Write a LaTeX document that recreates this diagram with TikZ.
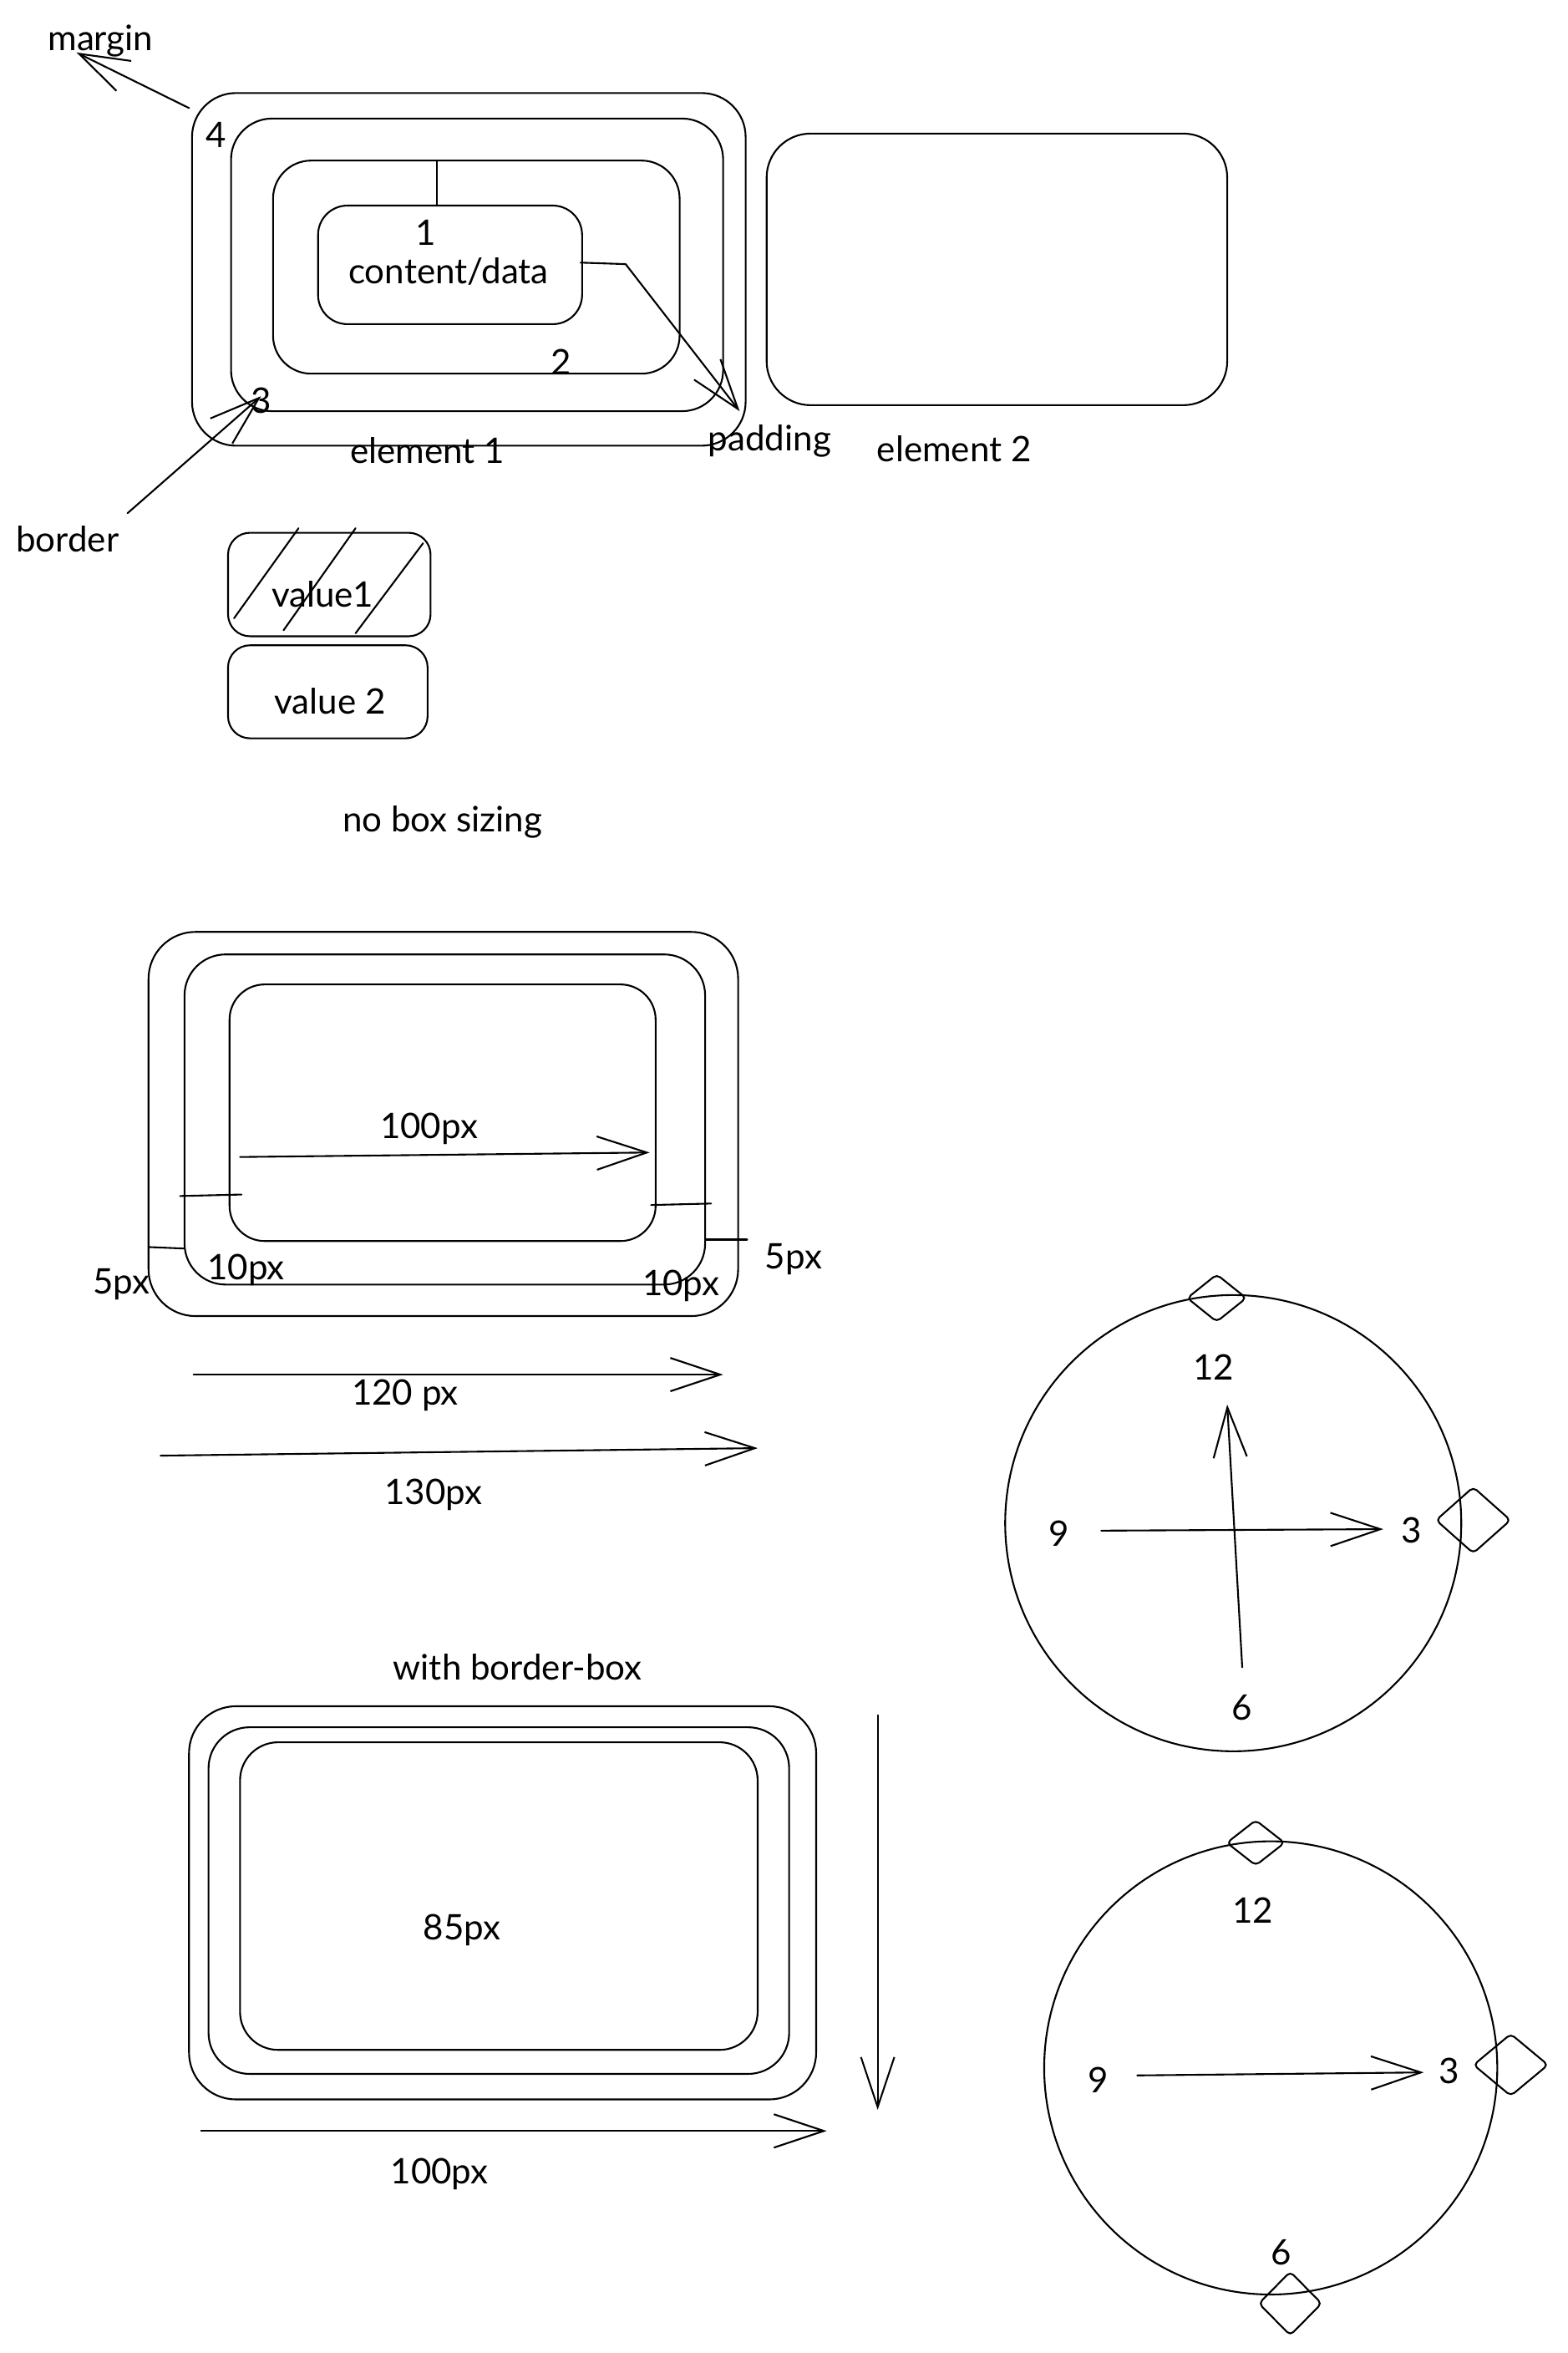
\documentclass[tikz,border=0pt]{standalone}
\usepackage{fontspec}
\setmainfont{Lato}
\usetikzlibrary{arrows.meta,shapes.geometric}

\begin{document}
\begin{tikzpicture}[
  x=0.036cm, y=-0.036cm,
  line width=1.2pt, line join=round, line cap=round,
  every node/.style={font=\fontsize{24}{28}\selectfont, inner sep=1pt},
  box/.style={draw, rounded corners=#1},
  box/.default=30pt,
  arr/.style={-{Straight Barb[length=12mm,width=8mm]}},
  knob/.style={draw, diamond, rounded corners=3pt, inner sep=0pt, minimum width=#1, minimum height=#1},
]
  \path[use as bounding box, fill=white] (0,0) rectangle (1045,1568);

  % Element 1 (nested boxes)
  \draw[box] (128,62) rectangle (497,297);
  \draw[box=28pt] (154,79) rectangle (482,274);
  \draw[box=26pt] (182,107) rectangle (453,249);
  \draw[box=20pt] (212,137) rectangle (388,216);
  \coordinate (tick0) at (291,107);
  \coordinate (tick1) at (291,137);
  \draw (tick0) -- (tick1);

  \node (one) at (284,155) {1};
  \node (content) at (299,181) {content/data};
  \node (two) at (374,241) {2};
  \node (four) at (144,90) {4};
  \node (three) at (174,267) {3};
  \node (el1) at (285,300) {element 1};

  % Labels with arrows
  \node (margin) at (67,27) {margin};
  \coordinate (mg0) at (126,72);
  \coordinate (mg1) at (51,35);
  \draw[arr] (mg0) -- (mg1);

  \node (border) at (45,359) {border};
  \coordinate (bd0) at (85,342);
  \coordinate (bd1) at (174,264);
  \draw[arr] (bd0) -- (bd1);

  \node (padding) at (513,294) {padding};
  \coordinate (pd0) at (387,175);
  \coordinate (pd1) at (417,176);
  \coordinate (pd2) at (493,274);
  \draw[arr] (pd0) -- (pd1) -- (pd2);

  % Element 2
  \draw[box] (511,89) rectangle (818,270);
  \node (el2) at (636,299) {element 2};

  % Stacked values
  \draw[box=15pt] (152,355) rectangle (287,424);
  \draw (199,352) -- (156,412);
  \draw (237,352) -- (189,420);
  \draw (282,362) -- (237,422);
  \node (val1) at (215,396) {value1};
  \draw[box=15pt] (152,430) rectangle (285,492);
  \node (val2) at (220,467) {value 2};

  \node (nobox) at (295,548) {no box sizing};

  % Content-box sizing
  \draw[box=32pt] (99,621) rectangle (492,877);
  \draw[box=28pt] (123,636) rectangle (470,856);
  \draw[box=24pt] (153,656) rectangle (437,827);
  \coordinate (w0) at (160,771);
  \coordinate (w1) at (433,768);
  \draw[arr] (w0) -- (w1);
  \node (w100) at (286,752) {100px};

  \draw (120,797) -- (161,796);
  \draw (434,803) -- (474,802);
  \draw (99,831) -- (123,832);
  \draw (470,826) -- (498,826);
  \node (pl) at (81,856) {5px};
  \node (bl) at (164,846) {10px};
  \node (br) at (454,857) {10px};
  \node (pr) at (529,839) {5px};

  \coordinate (t0) at (129,916);
  \coordinate (t1) at (482,916);
  \draw[arr] (t0) -- (t1);
  \node (w120) at (270,930) {120 px};
  \coordinate (h0) at (107,970);
  \coordinate (h1) at (505,965);
  \draw[arr] (h0) -- (h1);
  \node (w130) at (289,996) {130px};

  % Clock 1
  \draw (822,1015) circle[radius=152];
  \node[knob, minimum width=1.43cm, minimum height=1.15cm] (k12a) at (811,865) {};
  \node[knob, minimum width=1.8cm, minimum height=1.6cm] (k3a) at (982,1013) {};
  \node (c12a) at (809,911) {12};
  \node (c3a) at (941,1020) {3};
  \node (c9a) at (706,1022) {9};
  \node (c6a) at (828,1138) {6};
  \coordinate (ha0) at (734,1020);
  \coordinate (ha1) at (922,1019);
  \draw[arr] (ha0) -- (ha1);
  \coordinate (va0) at (828,1111);
  \coordinate (va1) at (818,936);
  \draw[arr] (va0) -- (va1);

  % Border-box sizing
  \node (bbox) at (345,1111) {with border-box};
  \draw[box=32pt] (126,1137) rectangle (544,1399);
  \draw[box=28pt] (139,1151) rectangle (526,1382);
  \draw[box=26pt] (160,1161) rectangle (505,1366);
  \node (w85) at (308,1286) {85px};
  \coordinate (d0) at (585,1143);
  \coordinate (d1) at (585,1406);
  \draw[arr] (d0) -- (d1);
  \coordinate (b0) at (134,1420);
  \coordinate (b1) at (551,1420);
  \draw[arr] (b0) -- (b1);
  \node (wb100) at (293,1449) {100px};

  % Clock 2
  \draw (847,1378) circle[radius=151];
  \node[knob, minimum width=1.4cm, minimum height=1.1cm] (k12b) at (837,1228) {};
  \node[knob, minimum width=1.8cm, minimum height=1.5cm] (k3b) at (1007,1376) {};
  \node[knob, minimum width=1.52cm, minimum height=1.54cm] (k6b) at (860,1535) {};
  \node (c12b) at (835,1273) {12};
  \node (c3b) at (966,1380) {3};
  \node (c9b) at (732,1386) {9};
  \node (c6b) at (854,1501) {6};
  \coordinate (hb0) at (758,1383);
  \coordinate (hb1) at (949,1381);
  \draw[arr] (hb0) -- (hb1);
\end{tikzpicture}
\end{document}
